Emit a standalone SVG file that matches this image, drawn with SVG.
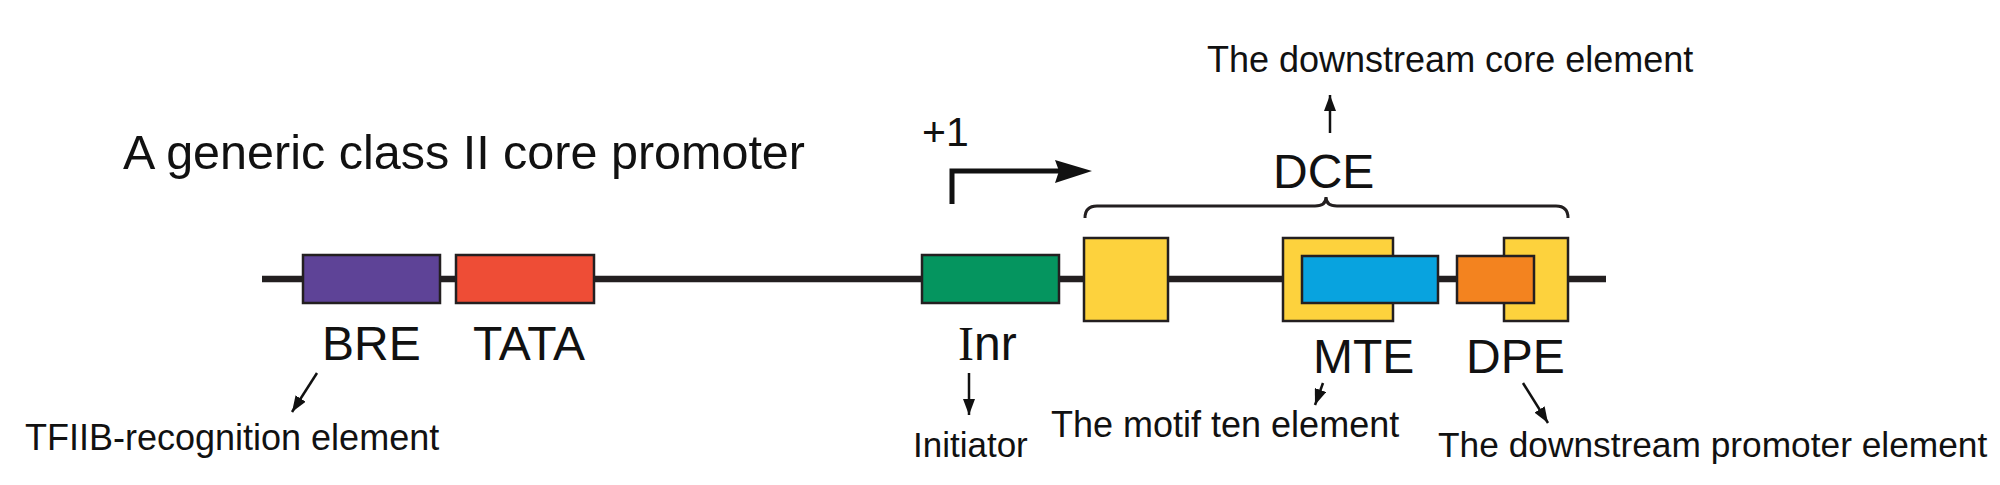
<svg xmlns="http://www.w3.org/2000/svg" width="2000" height="485" viewBox="0 0 2000 485">
<defs>
<style>
.t{font-family:"Liberation Sans",Arial,sans-serif;fill:#111;}
.big{font-size:48px;}
.sm{font-size:36px;}
.box{stroke:#231f20;stroke-width:2.5;}
.conn{stroke:#111;stroke-width:2.5;fill:none;}
</style>
<marker id="ah" markerUnits="userSpaceOnUse" markerWidth="16" markerHeight="12" refX="16" refY="6" orient="auto">
<path d="M0,0 L16,6 L0,12 z" fill="#111"/>
</marker>
</defs>
<rect width="2000" height="485" fill="#fff"/>
<text class="t" x="123" y="169" font-size="48.5">A generic class II core promoter</text>
<line x1="262" y1="279" x2="1606" y2="279" stroke="#231f20" stroke-width="6.5"/>
<g id="BRE">
<rect class="box" x="303" y="255" width="137" height="48" fill="#5e4397"/>
<text class="t big" x="322" y="360">BRE</text>
</g>
<g id="TATA">
<rect class="box" x="456" y="255" width="138" height="48" fill="#ee4d36"/>
<text class="t big" x="473" y="360">TATA</text>
</g>
<g id="Inr">
<rect class="box" x="922" y="255" width="137" height="48" fill="#05955f"/>
<text class="t big" x="958" y="360"><tspan style="font-family:'Liberation Serif',serif">I</tspan>nr</text>
</g>
<g id="TSS">
<text class="t" x="922" y="146" font-size="41">+1</text>
<path d="M952,204 V171 H1060" stroke="#111" stroke-width="5" fill="none"/>
<polygon points="1055,160 1092,171 1055,183 1059,171" fill="#111"/>
</g>
<g id="DCE">
<rect class="box" x="1084" y="238" width="84" height="83" fill="#fdd23d"/>
<rect class="box" x="1283" y="238" width="110" height="83" fill="#fdd23d"/>
<rect class="box" x="1504" y="238" width="64" height="83" fill="#fdd23d"/>
<path d="M1085,218 Q1085,206 1097,206 L1315,206 Q1326,206 1326,197 Q1326,206 1337,206 L1556,206 Q1568,206 1568,218" stroke="#231f20" stroke-width="3" fill="none"/>
<text class="t big" x="1273" y="188">DCE</text>
</g>
<g id="MTE">
<rect class="box" x="1302" y="256" width="136" height="47" fill="#08a3df"/>
<text class="t big" x="1313" y="373">MTE</text>
</g>
<g id="DPE">
<rect class="box" x="1457" y="256" width="77" height="47" fill="#f3831f"/>
<text class="t big" x="1466" y="373">DPE</text>
</g>
<g id="labels">
<text class="t sm" x="1207" y="72">The downstream core element</text>
<text class="t sm" x="25" y="450">TFIIB-recognition element</text>
<text class="t" x="913" y="457" font-size="35">Initiator</text>
<text class="t sm" x="1051" y="437">The motif ten element</text>
<text class="t" x="1438" y="457" font-size="35.3">The downstream promoter element</text>
</g>
<g id="connectors">
<line class="conn" x1="317" y1="373" x2="292" y2="412" marker-end="url(#ah)"/>
<line class="conn" x1="969" y1="373" x2="969" y2="415" marker-end="url(#ah)"/>
<line class="conn" x1="1323" y1="383" x2="1315" y2="405" marker-end="url(#ah)"/>
<line class="conn" x1="1523" y1="383" x2="1548" y2="423" marker-end="url(#ah)"/>
<line class="conn" x1="1330" y1="133" x2="1330" y2="95" marker-end="url(#ah)"/>
</g>
</svg>
